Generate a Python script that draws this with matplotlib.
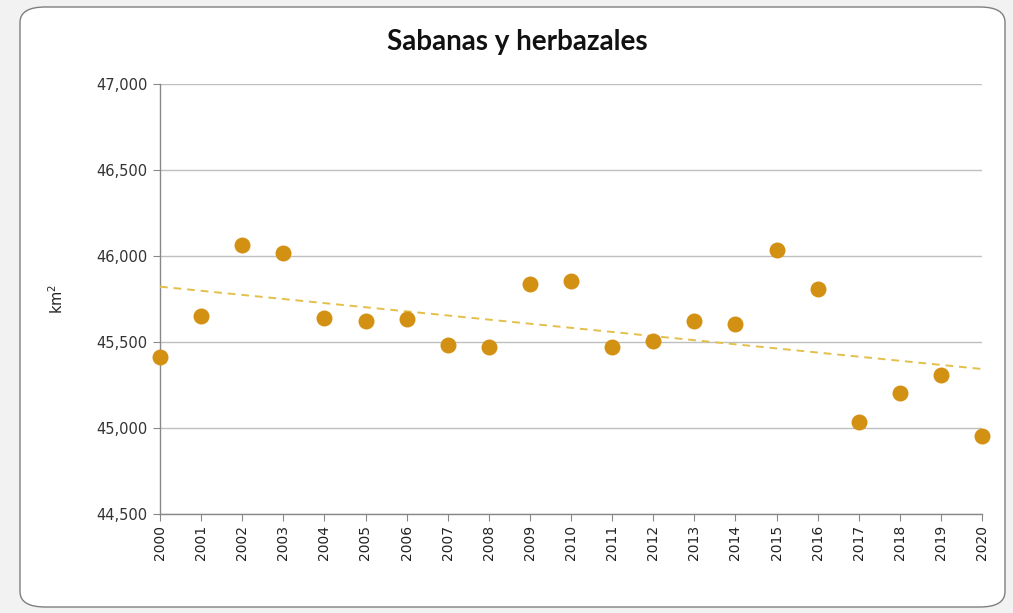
import numpy as np
import matplotlib
matplotlib.use("Agg")
import matplotlib.pyplot as plt
from matplotlib.patches import FancyBboxPatch
from matplotlib.ticker import FuncFormatter

plt.rcParams["font.family"] = ["DejaVu Sans"]

years = list(range(2000, 2021))
area_km2 = [45413, 45651, 46066, 46017, 45642, 45624, 45634, 45481, 45471, 45835,
            45854, 45469, 45508, 45622, 45603, 46037, 45806, 45037, 45202, 45306, 44952]
y_ticks = [44500, 45000, 45500, 46000, 46500, 47000]

W, H = 1013, 613
fig = plt.figure(figsize=(W / 100, H / 100), dpi=100)
fig.patch.set_facecolor("#f2f2f2")

# rounded white card behind the chart
card = FancyBboxPatch((20 / W, 6 / H), 985 / W, 600 / H,
                      boxstyle="round,pad=0,rounding_size=0.025",
                      transform=fig.transFigure, facecolor="white",
                      edgecolor="#7f7f7f", linewidth=1.0, zorder=-5)
fig.patches.append(card)

ax = fig.add_axes([160 / W, 1 - 514 / H, (982 - 160) / W, (514 - 84) / H])
ax.set_facecolor("none")
ax.set_zorder(2)

ax.plot(years, area_km2, "o", color="#d39113", markersize=11.5,
        markeredgewidth=0, clip_on=False, zorder=4)

# linear trend
slope, intercept = np.polyfit(years, area_km2, 1)
trend = [slope * yr + intercept for yr in years]
ax.plot(years, trend, linestyle=(0, (4, 3)), color="#e3c04a", linewidth=1.4, zorder=3)

ax.set_xlim(2000, 2020)
ax.set_ylim(44500, 47000)
ax.set_xticks(years)
ax.set_xticklabels([str(y) for y in years], rotation=90, fontsize=10, color="#222222")
ax.set_yticks(y_ticks)
ax.yaxis.set_major_formatter(FuncFormatter(lambda v, p: f"{int(v):,}"))
ax.tick_params(axis="y", labelsize=10.5, colors="#888888", labelcolor="#333333",
               length=5, direction="out", pad=4)
ax.tick_params(axis="x", colors="#888888", labelcolor="#222222", length=5,
               direction="out", pad=3)
ax.grid(axis="y", color="#bfbfbf", linewidth=1.0, zorder=1)
ax.set_axisbelow(True)
for side in ("top", "right"):
    ax.spines[side].set_visible(False)
for side in ("left", "bottom"):
    ax.spines[side].set_color("#888888")
    ax.spines[side].set_linewidth(1.0)

ax.set_ylabel("km$^2$", fontsize=10.5, color="#222222", labelpad=22)

fig.text(517 / W, 1 - 42 / H, "Sabanas y herbazales", ha="center", va="center",
         fontsize=20, fontweight="bold", family="Lato", color="#111111")

fig.savefig("out.png", dpi=100, facecolor=fig.get_facecolor())
